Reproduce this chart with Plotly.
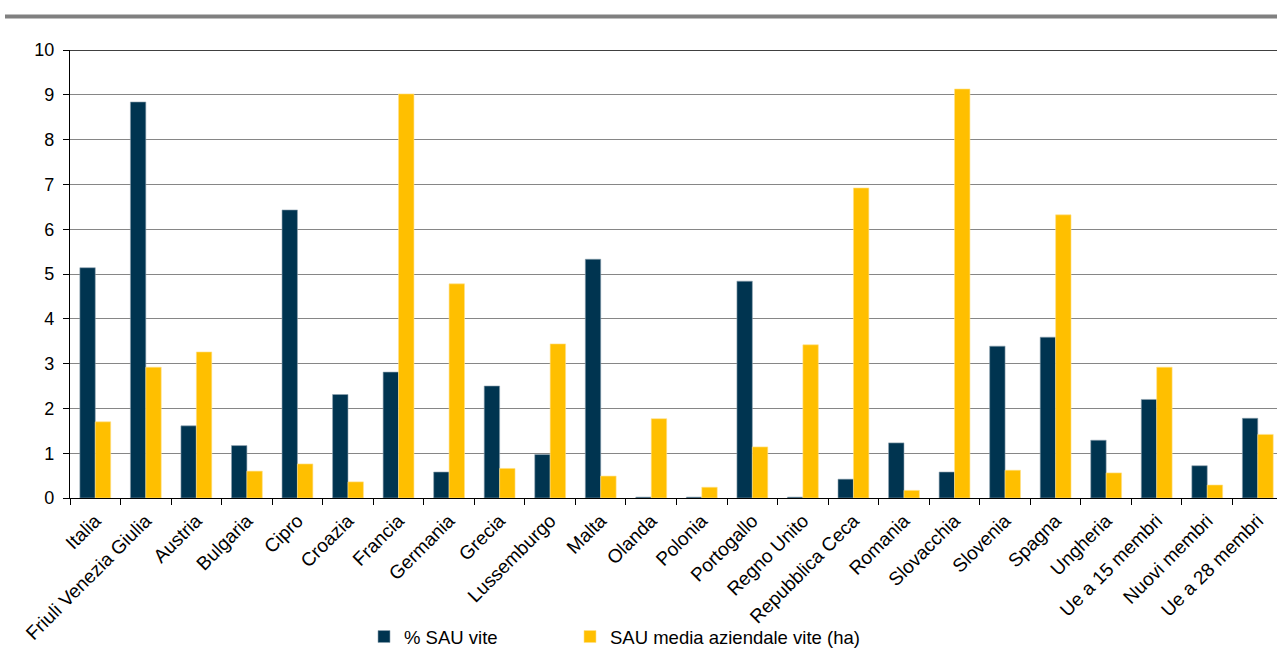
import plotly.graph_objects as go

categories = ["Italia", "Friuli Venezia Giulia", "Austria", "Bulgaria", "Cipro", "Croazia",
              "Francia", "Germania", "Grecia", "Lussemburgo", "Malta", "Olanda", "Polonia",
              "Portogallo", "Regno Unito", "Repubblica Ceca", "Romania", "Slovacchia",
              "Slovenia", "Spagna", "Ungheria", "Ue a 15 membri", "Nuovi membri", "Ue a 28 membri"]

pct_sau_vite = [5.14, 8.84, 1.61, 1.17, 6.43, 2.31, 2.81, 0.58, 2.50, 0.97, 5.33, 0.02, 0.02,
                4.84, 0.02, 0.42, 1.23, 0.58, 3.39, 3.59, 1.29, 2.20, 0.72, 1.78]

sau_media_vite = [1.70, 2.92, 3.26, 0.60, 0.76, 0.36, 9.02, 4.78, 0.66, 3.44, 0.49, 1.77, 0.24,
                  1.14, 3.42, 6.92, 0.17, 9.13, 0.62, 6.32, 0.56, 2.92, 0.29, 1.42]

series_names = ["% SAU vite", "SAU media aziendale vite (ha)"]
y_ticks = [0, 1, 2, 3, 4, 5, 6, 7, 8, 9, 10]

DARK = "#003450"
GOLD = "#FFBF00"
FONT = "Liberation Sans, Arial, sans-serif"

fig = go.Figure()
fig.add_trace(go.Bar(x=categories, y=pct_sau_vite, name=series_names[0], legend="legend",
                     marker=dict(color=DARK, line=dict(color="#8FA3B0", width=0.6))))
fig.add_trace(go.Bar(x=categories, y=sau_media_vite, name=series_names[1], legend="legend2",
                     marker=dict(color=GOLD, line=dict(color="#FFE08A", width=0.6))))

W, H = 1277, 671
L, T, B, R = 70, 50, 173, 0

leg_common = dict(orientation="h", xref="container", yref="container",
                  xanchor="left", yanchor="middle", bgcolor="rgba(0,0,0,0)",
                  font=dict(family=FONT, size=18.5, color="black"), itemclick=False)

fig.update_layout(
    width=W, height=H,
    margin=dict(l=L, r=R, t=T, b=B, pad=0, autoexpand=False),
    paper_bgcolor="white", plot_bgcolor="white",
    barmode="group", bargap=0.39, bargroupgap=0,
    font=dict(family=FONT, size=18, color="black"),
    showlegend=True,
    legend=dict(x=364 / W, y=1 - 637 / H, **leg_common),
    legend2=dict(x=570 / W, y=1 - 637 / H, **leg_common),
)

fig.update_xaxes(
    type="category", range=[-0.5, 23.38], automargin=False,
    showline=True, linecolor="black", linewidth=1.3,
    mirror=False, showgrid=False,
    ticks="outside", tickson="boundaries", ticklen=6, tickcolor="black", tickwidth=1,
    ticklabelstandoff=3,
    tickangle=-45, tickfont=dict(family=FONT, size=19, color="black"),
)
fig.update_yaxes(
    range=[0, 10], tickvals=y_ticks, ticktext=[str(v) for v in y_ticks], automargin=False,
    showline=True, linecolor="black", linewidth=1.3,
    showgrid=True, gridcolor="#868686", gridwidth=1,
    ticks="outside", ticklen=6, tickcolor="black", ticklabelstandoff=5,
    tickfont=dict(family=FONT, size=18, color="black"),
    zeroline=False,
)

# top frame line of plot area at y = 10
fig.add_shape(type="line", xref="paper", yref="y", x0=0, x1=1, y0=10, y1=10,
              line=dict(color="black", width=1.3))
# grey header rule above the chart
fig.add_shape(type="line", xref="paper", yref="paper",
              x0=(5 - L) / (W - L - R), x1=1.0,
              y0=(H - B - 16.5) / (H - T - B), y1=(H - B - 16.5) / (H - T - B),
              line=dict(color="#808080", width=4))

fig.write_html("out.html",
               config={"displayModeBar": False},
               post_script="document.body.style.margin='0px';document.body.style.overflow='hidden';")
